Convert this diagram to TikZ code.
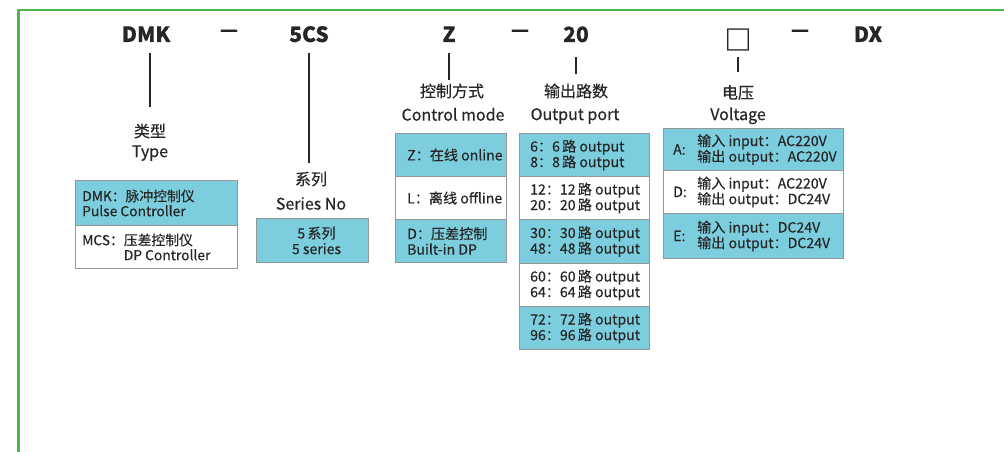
\documentclass[tikz,border=0pt]{standalone}
\usepackage{fontspec}
\setmainfont{Noto Sans CJK SC}[FakeBold=0.35]
\newfontfamily\codefont{Noto Sans CJK SC}[FakeBold=0.2]
\newfontfamily\sqfont{Noto Sans CJK SC}[FakeBold=0.9]
\definecolor{cy}{RGB}{124,206,222}
\definecolor{bd}{RGB}{150,150,150}
\definecolor{tx}{RGB}{38,38,38}
\definecolor{fr}{RGB}{76,184,72}
\newcommand{\cg}{\hspace{2.2pt}}
\begin{document}
\begin{tikzpicture}[x=1pt,y=-1pt,
  code/.style={font=\codefont\bfseries\fontsize{21}{21}\selectfont, text=tx, inner sep=0pt, text height=15pt, text depth=0pt},
  dashtxt/.style={font=\codefont\bfseries\fontsize{20}{20}\selectfont, text=tx, inner sep=0pt},
  lbl/.style={font=\fontsize{16}{16}\selectfont, text=tx, inner sep=0pt, text height=12.2pt, text depth=0pt},
  conn/.style={draw=tx, line width=1.4pt},
  cell/.style={draw=bd, line width=1pt, inner sep=0pt, anchor=north west},
  bt/.style={font=\fontsize{14.1}{15.6}\selectfont, text=tx, inner sep=0pt, align=left, anchor=west},
]
\useasboundingbox (0,0) rectangle (1004,452);
\fill[white] (0,0) rectangle (1004,452);
% frame
\draw[fr, line width=2.6pt] (18.5,452) -- (18.5,10) -- (1004,10);

% code row
\node[code] (dmk) at (146,34.5) {DMK};
\node[dashtxt] (d1) at (229,33) {—};
\node[code] (scs) at (309,34.5) {5CS};
\node[code] (z) at (449,34.5) {Z};
\node[dashtxt] (d2) at (520,33) {—};
\node[code] (n20) at (576,34.5) {20};
\node[code, font=\sqfont\fontsize{27}{27}\selectfont, anchor=base] (sq) at (738,49.8) {□};
\node[dashtxt] (d3) at (800,33) {—};
\node[code] (dx) at (868,34.5) {DX};

% labels
\node[lbl] (typezh) at (150,131) {类型};
\node[lbl] (typeen) at (150,151) {Type};
\node[lbl] (serzh) at (311,179) {系列};
\node[lbl] (seren) at (311,203.5) {Series No};
\node[lbl] (ctlzh) at (452,91) {控制方式};
\node[lbl] (ctlen) at (453,114.5) {Control mode};
\node[lbl] (outzh) at (576,91) {输出路数};
\node[lbl] (outen) at (575,114) {Output port};
\node[lbl] (volzh) at (738,92.5) {电压};
\node[lbl] (volen) at (738,114) {Voltage};

% connectors
\draw[conn, shorten >=18pt] ([yshift=-11pt]dmk.south -| typezh.north) -- (typezh.north);
\draw[conn, shorten >=10pt] ([yshift=-11pt]scs.south) -- (scs.south |- serzh.north);
\draw[conn, shorten >=5pt] ([yshift=-11pt]z.south) -- (z.south |- ctlzh.north);
\draw[conn, shorten >=11pt] ([yshift=-15pt]n20.south) -- (n20.south |- outzh.north);
\draw[conn, shorten >=14pt] ([yshift=-7pt]sq.south) -- (sq.south |- volzh.north);

% Type box
\node[cell, fill=cy, minimum width=162pt, minimum height=45pt] (t1) at (75,180) {};
\node[cell, fill=white, minimum width=162pt, minimum height=43pt] (t2) at (75,225) {};
\node[bt, font=\fontsize{13.8}{15}\selectfont] (t1t) at ([xshift=7pt]t1.west) {DMK：脉冲控制仪\\Pulse Controller};
\node[bt, font=\fontsize{13.8}{15}\selectfont] (t2t) at ([xshift=7pt]t2.west) {MCS：压差控制仪\\\phantom{MCS：}DP Controller};

% Series box
\node[cell, fill=cy, minimum width=112pt, minimum height=44pt] (s1) at (256,218) {};
\node[bt, align=center, anchor=center] (s1t) at ([xshift=4pt]s1.center) {5\cg 系列\\5 series};

% Control box
\node[cell, fill=cy, minimum width=111pt, minimum height=43pt] (c1) at (395,133) {};
\node[cell, fill=white, minimum width=111pt, minimum height=43pt] (c2) at (395,176) {};
\node[cell, fill=cy, minimum width=111pt, minimum height=43pt] (c3) at (395,219) {};
\node[bt] (c1t) at ([xshift=12pt]c1.west) {Z：在线 online};
\node[bt] (c2t) at ([xshift=12pt]c2.west) {L：离线 offline};
\node[bt] (c3t) at ([xshift=12pt]c3.west) {D：压差控制\\Built-in DP};

% Output box
\node[cell, fill=cy, minimum width=130pt, minimum height=43pt] (o1) at (519,133) {};
\node[cell, fill=white, minimum width=130pt, minimum height=43pt] (o2) at (519,176) {};
\node[cell, fill=cy, minimum width=130pt, minimum height=44pt] (o3) at (519,219) {};
\node[cell, fill=white, minimum width=130pt, minimum height=43pt] (o4) at (519,263) {};
\node[cell, fill=cy, minimum width=130pt, minimum height=43pt] (o5) at (519,306) {};
\node[bt] (o1t) at ([xshift=11pt]o1.west) {6：6\cg 路 output\\8：8\cg 路 output};
\node[bt] (o2t) at ([xshift=11pt]o2.west) {12：12\cg 路 output\\20：20\cg 路 output};
\node[bt] (o3t) at ([xshift=11pt]o3.west) {30：30\cg 路 output\\48：48\cg 路 output};
\node[bt] (o4t) at ([xshift=11pt]o4.west) {60：60\cg 路 output\\64：64\cg 路 output};
\node[bt] (o5t) at ([xshift=11pt]o5.west) {72：72\cg 路 output\\96：96\cg 路 output};

% Voltage box
\node[cell, fill=cy, minimum width=180pt, minimum height=42pt] (v1) at (663,128) {};
\node[cell, fill=white, minimum width=180pt, minimum height=43pt] (v2) at (663,170) {};
\node[cell, fill=cy, minimum width=180pt, minimum height=45pt] (v3) at (663,213) {};
\node[bt] (v1k) at ([xshift=10pt]v1.west) {A:};
\node[bt] (v2k) at ([xshift=10pt]v2.west) {D:};
\node[bt] (v3k) at ([xshift=10pt]v3.west) {E:};
\node[bt] (v1t) at ([xshift=34pt]v1.west) {输入 input：AC220V\\输出 output：AC220V};
\node[bt] (v2t) at ([xshift=34pt]v2.west) {输入 input：AC220V\\输出 output：DC24V};
\node[bt] (v3t) at ([xshift=34pt]v3.west) {输入 input：DC24V\\输出 output：DC24V};
\end{tikzpicture}
\end{document}
